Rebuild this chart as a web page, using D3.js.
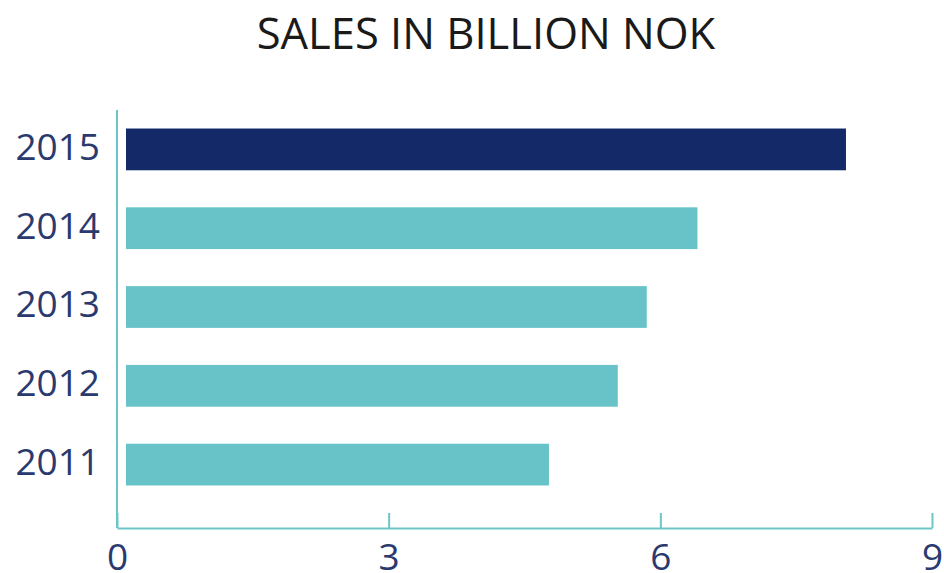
<!DOCTYPE html>
<html><head><meta charset="utf-8">
<script src="https://cdn.jsdelivr.net/npm/d3@7"></script>
<style>body{margin:0;background:#fff;}svg{display:block;}</style>
</head><body>
<svg id="c" width="944" height="573"></svg>
<script>
const years = ["2015","2014","2013","2012","2011"];
const sales = [8.05, 6.41, 5.85, 5.53, 4.77];
const highlight = ["2015"];
const xTicks = [0, 3, 6, 9];
const title = "SALES IN BILLION NOK";

const svg = d3.select("#c");
const x = d3.scaleLinear().domain([0, 9]).range([117, 932]);
const y = d3.scaleBand().domain(years).range([110, 504]).paddingInner(0.47).paddingOuter(0.235);
const axisColor = "#6cc5c8";
const navy = "#142968";
const teal = "#67c3c7";
const labelColor = "#2b3a6e";

svg.append("text").attr("x", 486).attr("y", 49).attr("text-anchor", "middle")
  .attr("font-family", "Open Sans").attr("font-size", 43.5).attr("fill", "#1a1a1a")
  .text(title);

svg.selectAll("rect.bar").data(years).enter().append("rect")
  .attr("class", "bar")
  .attr("x", x(0) + 9)
  .attr("y", d => y(d))
  .attr("height", y.bandwidth())
  .attr("width", (d, i) => x(sales[i]) - x(0) - 9)
  .attr("fill", d => highlight.includes(d) ? navy : teal);

// y axis
const yAxis = svg.append("g").attr("transform", `translate(${x(0)},0)`)
  .call(d3.axisLeft(y).tickSize(0).tickPadding(17));
yAxis.select(".domain").remove();
yAxis.append("line").attr("x1", 0).attr("x2", 0).attr("y1", 110).attr("y2", 528)
  .attr("stroke", axisColor).attr("stroke-width", 2);
yAxis.selectAll(".tick text").attr("font-family", "Open Sans").attr("font-size", 37)
  .attr("fill", labelColor).attr("dy", "0.28em");

// x axis
const xAxis = svg.append("g").attr("transform", "translate(0,528)")
  .call(d3.axisBottom(x).tickValues(xTicks).tickSize(-15).tickPadding(16).tickSizeOuter(0));
xAxis.select(".domain").attr("stroke", axisColor).attr("stroke-width", 2);
xAxis.selectAll(".tick line").attr("stroke", axisColor).attr("stroke-width", 2);
xAxis.selectAll(".tick text").attr("font-family", "Open Sans").attr("font-size", 37)
  .attr("fill", labelColor);
</script>
</body></html>
